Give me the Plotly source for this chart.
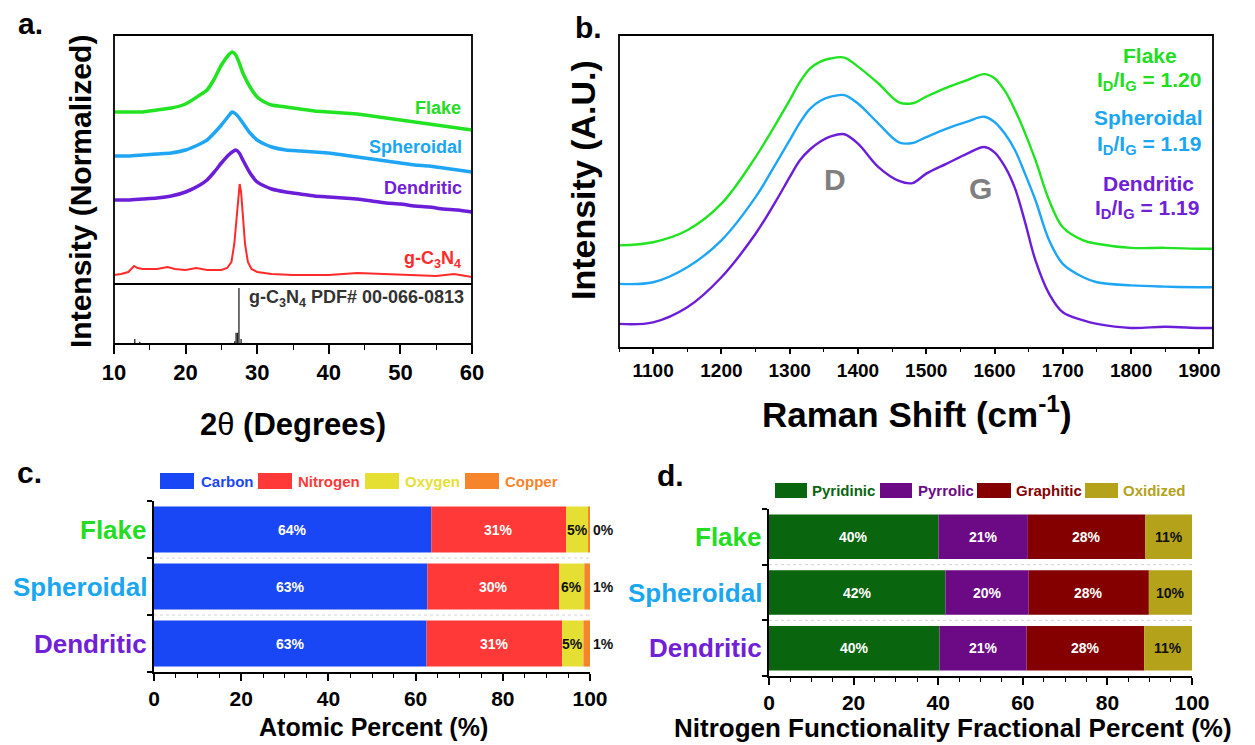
import plotly.graph_objects as go

W, H = 1255, 745
def px(x): return x / W
def py(y): return 1 - y / H

FONT = "Liberation Sans, Arial, sans-serif"
GREEN, BLUE, PURPLE, RED = "#22e322", "#1ea6f4", "#6c1dd8", "#ff2b2b"
GREEN_T, BLUE_T, PURPLE_T = "#22dd22", "#1aa6f0", "#7020d6"

# ---------------- Panel a: XRD ----------------
xrd_x = [10, 12, 14, 16, 18, 20, 22, 23, 24, 25, 26, 26.5, 27, 27.5, 28, 29, 30, 31, 32, 34,
         36, 38, 40, 42, 44, 46, 48, 50, 52, 54, 56, 58, 60]
xrd_flake = [172, 172, 172, 174, 176, 180, 189, 194, 205, 219, 229, 232, 229, 221, 211, 197, 187,
             182, 179, 177, 175, 173, 172, 171, 170, 168, 166, 164, 162, 160, 158, 156, 154]
xrd_spheroidal = [128, 128, 129, 130, 131, 134, 140, 144, 151, 159, 168, 172, 170, 166, 161, 151,
                  144, 140, 137, 134, 133, 132, 131, 129, 127, 125, 123, 121, 119, 118, 116, 114, 112]
xrd_dendritic = [84, 84, 85, 86, 88, 92, 99, 104, 112, 121, 129, 132, 134, 131, 124, 111, 102, 98,
                 95, 92, 90, 88, 87, 86, 85, 83, 81, 80, 78, 77, 75, 74, 72]
gcn_x = [10, 11, 12, 12.8, 13.3, 14, 15, 16, 17.5, 18.5, 20, 21.5, 23, 24, 25, 25.8, 26.4, 26.8,
         27.1, 27.35, 27.55, 27.75, 28.0, 28.3, 28.7, 29.2, 30, 32, 35, 40, 44, 47, 50, 55, 57.5, 60]
gcn_y = [9, 10, 12, 18, 16, 15, 15, 15, 17, 15, 14, 16, 14, 14, 14, 16, 22, 40, 65, 90, 100, 92,
         70, 40, 22, 15, 12, 10, 9, 9, 11, 10, 9, 8, 10, 7]
pdf_x = [12.9, 13.6, 14.3, 17.6, 21.8, 25.9, 26.4, 26.85, 27.05, 27.25, 27.45, 27.75]
pdf_h = [9, 4, 1.5, 1, 1, 2, 2, 5, 20, 20, 100, 9]

# ---------------- Panel b: Raman ----------------
raman_x = [1050, 1100, 1150, 1200, 1250, 1280, 1300, 1315, 1330, 1345, 1360, 1380, 1400, 1430,
           1460, 1480, 1500, 1530, 1560, 1585, 1600, 1615, 1630, 1645, 1660, 1680, 1700, 1730,
           1750, 1800, 1850, 1900, 1920]
raman_flake = [.328, .338, .376, .461, .610, .717, .792, .850, .893, .915, .925, .928, .899, .845,
               .785, .782, .803, .832, .856, .875, .862, .822, .760, .685, .600, .472, .386, .344,
               .333, .320, .320, .317, .317]
raman_spheroidal = [.205, .210, .258, .344, .482, .590, .664, .720, .765, .790, .803, .808, .781,
                    .717, .657, .655, .674, .701, .723, .739, .722, .685, .632, .555, .472, .344,
                    .269, .226, .210, .200, .196, .194, .194]
raman_dendritic = [.077, .082, .130, .226, .365, .470, .546, .600, .635, .660, .676, .683, .653,
                   .578, .534, .527, .557, .589, .621, .642, .625, .580, .510, .400, .280, .173,
                   .114, .088, .077, .064, .068, .064, .064]

# ---------------- Panel c: atomic percent ----------------
samples = ["Flake", "Spheroidal", "Dendritic"]
sample_colors = [GREEN_T, BLUE_T, PURPLE_T]
elements = ["Carbon", "Nitrogen", "Oxygen", "Copper"]
element_colors = ["#1a47f5", "#ff3838", "#e6df33", "#f5842b"]
atomic = {
    "Carbon": [63.6, 62.7, 62.5],
    "Nitrogen": [30.9, 30.2, 31.1],
    "Oxygen": [5.2, 5.8, 4.9],
    "Copper": [0.3, 1.3, 1.5],
}
atomic_labels = {
    "Carbon": ["64%", "63%", "63%"],
    "Nitrogen": ["31%", "30%", "31%"],
    "Oxygen": ["5%", "6%", "5%"],
    "Copper": ["0%", "1%", "1%"],
}

# ---------------- Panel d: nitrogen functionality ----------------
nfunc = ["Pyridinic", "Pyrrolic", "Graphitic", "Oxidized"]
nfunc_colors = ["#0a650f", "#6c0a86", "#840000", "#b3a21a"]
nfrac = {
    "Pyridinic": [40.1, 41.7, 40.3],
    "Pyrrolic": [21.1, 19.7, 20.6],
    "Graphitic": [27.7, 28.4, 27.8],
    "Oxidized": [11.1, 10.2, 11.3],
}
nfrac_labels = {
    "Pyridinic": ["40%", "42%", "40%"],
    "Pyrrolic": ["21%", "20%", "21%"],
    "Graphitic": ["28%", "28%", "28%"],
    "Oxidized": ["11%", "10%", "11%"],
}

fig = go.Figure()

def line(x, y, color, width, xa, ya, shape="spline", smoothing=0.6):
    fig.add_trace(go.Scatter(x=x, y=y, mode="lines", xaxis=xa, yaxis=ya, showlegend=False,
                             hoverinfo="skip",
                             line=dict(color=color, width=width, shape=shape,
                                       smoothing=smoothing)))

line(xrd_x, xrd_flake, GREEN, 3.5, "x", "y")
line(xrd_x, xrd_spheroidal, BLUE, 3.5, "x", "y")
line(xrd_x, xrd_dendritic, PURPLE, 3.5, "x", "y")
line(gcn_x, gcn_y, RED, 2, "x", "y", shape="linear")

sx, sy = [], []
for xv, hv in zip(pdf_x, pdf_h):
    sx += [xv, xv, None]
    sy += [0, hv, None]
line(sx, sy, "#222222", 1.3, "x", "y2", shape="linear")

line(raman_x, raman_flake, GREEN, 2.4, "x2", "y3", smoothing=1.0)
line(raman_x, raman_spheroidal, BLUE, 2.4, "x2", "y3", smoothing=1.0)
line(raman_x, raman_dendritic, PURPLE, 2.4, "x2", "y3", smoothing=1.0)

ypos = [0, 1, 2]
annotations = []
shapes = []

def stacked(data, labels, names, colors, xa, ya, width, n_white, last_inside):
    base = [0, 0, 0]
    for k, (nm, col) in enumerate(zip(names, colors)):
        vals = data[nm]
        fig.add_trace(go.Bar(x=vals, y=ypos, base=base, orientation="h", width=width,
                             marker=dict(color=col, line=dict(width=0)), xaxis=xa, yaxis=ya,
                             showlegend=False, hoverinfo="skip"))
        for i in range(3):
            lab = "<b>%s</b>" % labels[nm][i]
            if k < n_white:
                annotations.append(dict(x=base[i] + vals[i] / 2, y=ypos[i], xref=xa, yref=ya,
                                        text=lab, showarrow=False,
                                        font=dict(size=14, color="white", family=FONT)))
            elif k < len(names) - 1 or last_inside:
                annotations.append(dict(x=base[i] + vals[i] / 2, y=ypos[i], xref=xa, yref=ya,
                                        text=lab, showarrow=False,
                                        font=dict(size=14, color="#111111", family=FONT)))
            else:
                annotations.append(dict(x=100, y=ypos[i], xref=xa, yref=ya, xanchor="left",
                                        xshift=1, text=lab, showarrow=False,
                                        font=dict(size=14, color="#111111", family=FONT)))
        base = [b + v for b, v in zip(base, vals)]

stacked(atomic, atomic_labels, elements, element_colors, "x3", "y4", 0.81, 2, False)
stacked(nfrac, nfrac_labels, nfunc, nfunc_colors, "x4", "y5", 0.80, 3, True)

# dotted separators in bar gaps
for xa, ya in [("x3", "y4"), ("x4", "y5")]:
    for yv in [0.5, 1.5]:
        shapes.append(dict(type="line", xref=xa, yref=ya, x0=0, x1=100, y0=yv, y1=yv,
                           line=dict(color="#d4d4d4", width=1, dash="dot")))

# frames for panels a and b
for (x0, y0, x1, y1) in [(114, 35, 472, 344), (619, 35, 1213, 348)]:
    shapes.append(dict(type="rect", xref="paper", yref="paper", x0=px(x0), x1=px(x1),
                       y0=py(y1), y1=py(y0), line=dict(color="black", width=1.8)))
shapes.append(dict(type="line", xref="paper", yref="paper", x0=px(114), x1=px(472),
                   y0=py(284), y1=py(284), line=dict(color="black", width=1.8)))

def text(x, y, s, size, color="black", xanchor="center", angle=0, bold=True):
    annotations.append(dict(x=px(x), y=py(y), xref="paper", yref="paper", showarrow=False,
                            text=("<b>%s</b>" % s) if bold else s, xanchor=xanchor,
                            yanchor="middle", textangle=angle,
                            font=dict(size=size, color=color, family=FONT)))

# panel labels
text(30, 24, "a.", 30)
text(588, 27, "b.", 30)
text(29, 472, "c.", 30)
text(670, 475, "d.", 30)

# panel a texts
text(80, 192, "Intensity (Normalized)", 30, angle=-90)
text(293, 425, "<b>2</b>θ<b> (Degrees)</b>", 31, bold=False)
text(463, 108, "Flake", 18, GREEN_T, "right")
text(464, 147, "Spheroidal", 18, BLUE_T, "right")
text(464, 188, "Dendritic", 18, PURPLE_T, "right")
text(463, 260, "g-C<sub>3</sub>N<sub>4</sub>", 18, RED, "right")
text(466, 298, "g-C<sub>3</sub>N<sub>4</sub> PDF# 00-066-0813", 18, "#333333", "right")

# panel b texts
text(583, 180, "Intensity (A.U.)", 34, angle=-90)
text(917, 412, "Raman Shift (cm<sup>-1</sup>)", 35)
annotations.append(dict(x=1366, y=0.537, xref="x2", yref="y3", text="<b>D</b>", showarrow=False,
                        font=dict(size=30, color="#7f7f7f", family=FONT)))
annotations.append(dict(x=1580, y=0.511, xref="x2", yref="y3", text="<b>G</b>", showarrow=False,
                        font=dict(size=30, color="#7f7f7f", family=FONT)))
text(1150, 56, "Flake", 21, GREEN_T)
text(1149, 81, "I<sub>D</sub>/I<sub>G</sub> = 1.20", 21, GREEN_T)
text(1148, 117, "Spheroidal", 21, BLUE_T)
text(1149, 145, "I<sub>D</sub>/I<sub>G</sub> = 1.19", 21, BLUE_T)
text(1148, 183, "Dendritic", 21, PURPLE_T)
text(1147, 209, "I<sub>D</sub>/I<sub>G</sub> = 1.19", 21, PURPLE_T)

# panel c / d texts
text(373, 727, "Atomic Percent (%)", 25)
text(953, 728, "Nitrogen Functionality Fractional Percent (%)", 26)
for i, (s, c) in enumerate(zip(samples, sample_colors)):
    annotations.append(dict(x=px(149), y=ypos[i], xref="paper", yref="y4", xanchor="right",
                            text="<b>%s</b>" % s, showarrow=False,
                            font=dict(size=26, color=c, family=FONT)))
    annotations.append(dict(x=px(764), y=ypos[i], xref="paper", yref="y5", xanchor="right",
                            text="<b>%s</b>" % s, showarrow=False,
                            font=dict(size=26, color=c, family=FONT)))

# legends (boxes + coloured text)
def legend_item(bx0, bx1, by0, by1, label, color, tx):
    shapes.append(dict(type="rect", xref="paper", yref="paper", x0=px(bx0), x1=px(bx1),
                       y0=py(by1), y1=py(by0), fillcolor=color, line=dict(width=0)))
    text(tx, (by0 + by1) / 2, label, 15, color, "left")

c_leg = [(160, 194, 199), (258, 292, 296), (365, 399, 403), (465, 499, 503)]
for (b0, b1, tx), nm, col in zip(c_leg, elements, element_colors):
    legend_item(b0, b1, 473, 489, nm, col, tx)
d_leg = [(775, 807, 810), (880, 912, 916), (977, 1011, 1014), (1085, 1118, 1121)]
for (b0, b1, tx), nm, col in zip(d_leg, nfunc, nfunc_colors):
    legend_item(b0, b1, 483, 498, nm, col, tx)

tickfont_a = dict(size=22, color="black", family=FONT, weight="bold")
tickfont_b = dict(size=19, color="black", family=FONT, weight="bold")
tickfont_cd = dict(size=21, color="black", family=FONT, weight="bold")

hidden = dict(showgrid=False, zeroline=False, showticklabels=False, ticks="", showline=False,
              automargin=False)

def bar_x(dom):
    return dict(domain=dom, range=[0, 100], tickvals=[0, 20, 40, 60, 80, 100], ticks="outside",
                ticklen=7, tickwidth=1.5, tickcolor="black", showline=True, linecolor="black",
                linewidth=1.8, showgrid=False, zeroline=False, tickfont=tickfont_cd,
                automargin=False,
                minor=dict(dtick=5, ticks="outside", ticklen=4, tickwidth=1.2, tickcolor="black"))

def bar_y(dom, anchor):
    return dict(domain=dom, range=[2.5, -0.5], anchor=anchor, tickvals=[-0.5, 0.5, 1.5, 2.5],
                showticklabels=False, ticks="outside", ticklen=5, tickwidth=1.5,
                tickcolor="black", showline=True, linecolor="black", linewidth=1.8,
                showgrid=False, zeroline=False, automargin=False)

fig.update_layout(
    width=W, height=H, margin=dict(l=0, r=0, t=0, b=0, pad=0, autoexpand=False),
    paper_bgcolor="white", plot_bgcolor="white", barmode="overlay", showlegend=False,
    font=dict(family=FONT),
    xaxis=dict(domain=[px(114), px(472)], anchor="y2", range=[10, 60],
               tickvals=[10, 20, 30, 40, 50, 60], ticks="outside", ticklen=9, tickwidth=1.5,
               tickcolor="black", showgrid=False, zeroline=False, showline=False,
               tickfont=tickfont_a, automargin=False,
               minor=dict(dtick=5, ticks="outside", ticklen=5, tickwidth=1.3, tickcolor="black")),
    yaxis=dict(domain=[py(284), py(35)], anchor="x", range=[0, 249], **hidden),
    yaxis2=dict(domain=[py(344), py(284)], anchor="x", range=[0, 107], **hidden),
    xaxis2=dict(domain=[px(619), px(1213)], anchor="y3", range=[1050, 1920],
                tickvals=list(range(1100, 2000, 100)), ticks="outside", ticklen=5, tickwidth=1.5,
                tickcolor="black", showgrid=False, zeroline=False, showline=False,
                tickfont=tickfont_b, automargin=False,
                minor=dict(dtick=50, ticks="outside", ticklen=3, tickwidth=1.2, tickcolor="black")),
    yaxis3=dict(domain=[py(348), py(35)], anchor="x2", range=[0, 1], **hidden),
    xaxis3=dict(anchor="y4", **bar_x([px(154), px(590)])),
    yaxis4=bar_y([py(672), py(501)], "x3"),
    xaxis4=dict(anchor="y5", **bar_x([px(769), px(1192)])),
    yaxis5=bar_y([py(676), py(509)], "x4"),
    annotations=annotations, shapes=shapes,
)

fig.write_html("out.html")
